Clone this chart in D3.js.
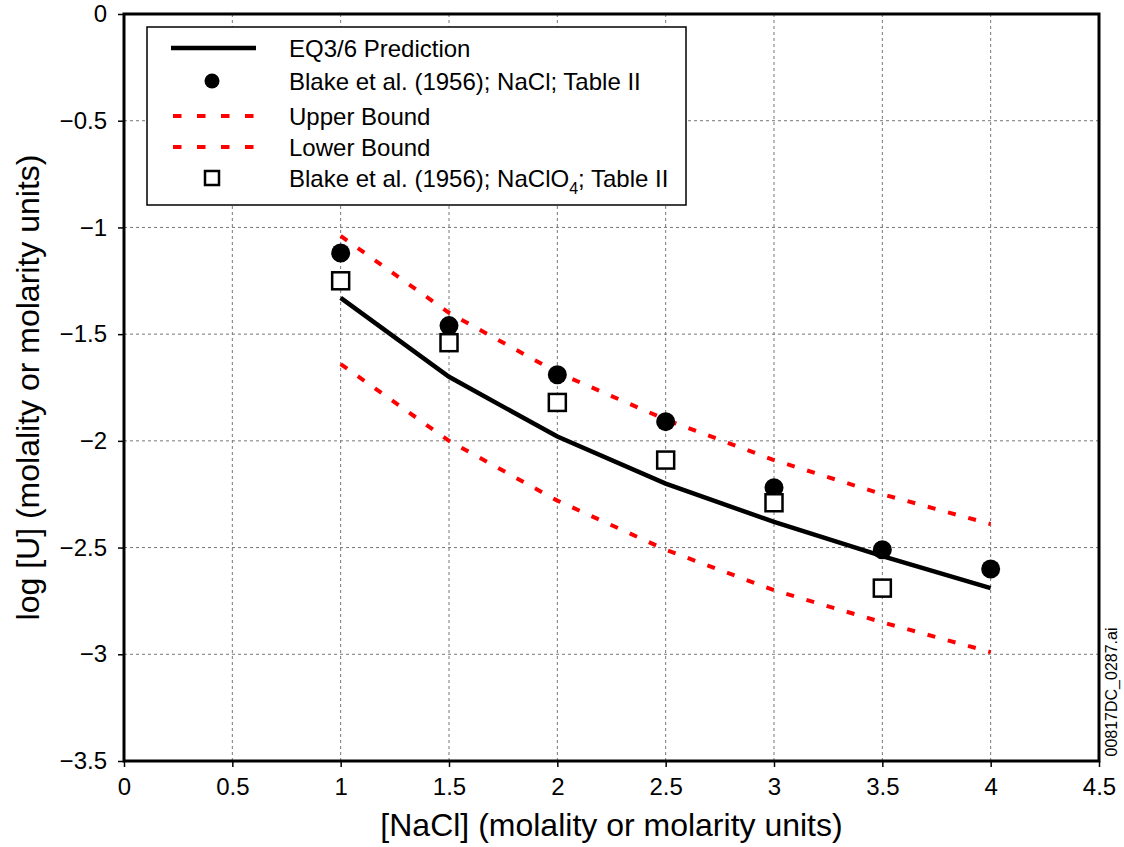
<!DOCTYPE html>
<html>
<head>
<meta charset="utf-8">
<script src="https://cdnjs.cloudflare.com/ajax/libs/d3/7.8.5/d3.min.js"></script>
<style>
  html, body { margin: 0; padding: 0; background: #fff; }
  svg { display: block; font-family: "Liberation Sans", Arial, sans-serif; }
</style>
</head>
<body>
<svg id="chart" width="1124" height="847"></svg>
<script>
// values
var conc = [1, 1.5, 2, 2.5, 3, 3.5, 4];
var eq36 = [-1.33, -1.70, -1.98, -2.20, -2.38, -2.54, -2.69];
var upperBound = [-1.04, -1.40, -1.68, -1.90, -2.09, -2.25, -2.39];
var lowerBound = [-1.64, -2.00, -2.28, -2.51, -2.70, -2.85, -2.99];
var naclX = [1, 1.5, 2, 2.5, 3, 3.5, 4];
var naclY = [-1.12, -1.46, -1.69, -1.91, -2.22, -2.51, -2.60];
var clo4X = [1, 1.5, 2, 2.5, 3, 3.5];
var clo4Y = [-1.25, -1.54, -1.82, -2.09, -2.29, -2.69];
var xTicks = [0, 0.5, 1, 1.5, 2, 2.5, 3, 3.5, 4, 4.5];
var yTicks = [0, -0.5, -1, -1.5, -2, -2.5, -3, -3.5];

var svg = d3.select('#chart'),
    pLeft = 124, pRight = 1099, pTop = 14, pBottom = 761;

var x = d3.scaleLinear().domain([0, 4.5]).range([pLeft, pRight]);
var y = d3.scaleLinear().domain([-3.5, 0]).range([pBottom, pTop]);
var fmt = d3.format('~g');

// grid
var grid = svg.append('g')
    .attr('stroke', '#777')
    .attr('stroke-width', 1)
    .attr('stroke-dasharray', '3,3');
grid.selectAll('line.gx')
    .data(xTicks.slice(1, -1)).enter().append('line')
      .attr('x1', function(d) { return x(d); })
      .attr('x2', function(d) { return x(d); })
      .attr('y1', pTop).attr('y2', pBottom);
grid.selectAll('line.gy')
    .data(yTicks.slice(1, -1)).enter().append('line')
      .attr('y1', function(d) { return y(d); })
      .attr('y2', function(d) { return y(d); })
      .attr('x1', pLeft).attr('x2', pRight);

// axes
var xAxis = svg.append('g')
    .attr('transform', 'translate(0,' + pBottom + ')')
    .call(d3.axisBottom(x).tickValues(xTicks).tickFormat(fmt).tickSize(6).tickPadding(11));
var yAxis = svg.append('g')
    .attr('transform', 'translate(' + pLeft + ',0)')
    .call(d3.axisLeft(y).tickValues(yTicks).tickFormat(fmt).tickSize(6).tickPadding(11));
[xAxis, yAxis].forEach(function(a) {
  a.select('.domain').remove();
  a.selectAll('line').attr('stroke', '#000').attr('stroke-width', 1.5);
  a.selectAll('text')
    .attr('fill', '#000')
    .attr('font-size', 24)
    .attr('font-family', '"Liberation Sans", Arial, sans-serif');
});

// lines
var line = d3.line()
    .x(function(d) { return x(d[0]); })
    .y(function(d) { return y(d[1]); });

function pairs(xs, ys) { return xs.map(function(v, i) { return [v, ys[i]]; }); }

svg.append('path')
    .datum(pairs(conc, upperBound))
    .attr('d', line)
    .attr('fill', 'none')
    .attr('stroke', '#ff0000')
    .attr('stroke-width', 4)
    .attr('stroke-dasharray', '8,13');
svg.append('path')
    .datum(pairs(conc, lowerBound))
    .attr('d', line)
    .attr('fill', 'none')
    .attr('stroke', '#ff0000')
    .attr('stroke-width', 4)
    .attr('stroke-dasharray', '8,13');
svg.append('path')
    .datum(pairs(conc, eq36))
    .attr('d', line)
    .attr('fill', 'none')
    .attr('stroke', '#000')
    .attr('stroke-width', 4.5);

// markers
svg.append('g').selectAll('circle')
    .data(pairs(naclX, naclY)).enter().append('circle')
      .attr('cx', function(d) { return x(d[0]); })
      .attr('cy', function(d) { return y(d[1]); })
      .attr('r', 9.5)
      .attr('fill', '#000');
svg.append('g').selectAll('rect')
    .data(pairs(clo4X, clo4Y)).enter().append('rect')
      .attr('x', function(d) { return x(d[0]) - 8.5; })
      .attr('y', function(d) { return y(d[1]) - 8.5; })
      .attr('width', 17).attr('height', 17)
      .attr('fill', '#fff')
      .attr('stroke', '#000')
      .attr('stroke-width', 2.5);

// frame
svg.append('rect')
    .attr('x', pLeft).attr('y', pTop)
    .attr('width', pRight - pLeft).attr('height', pBottom - pTop)
    .attr('fill', 'none')
    .attr('stroke', '#000')
    .attr('stroke-width', 3);

// legend
var lg = svg.append('g');
lg.append('rect')
    .attr('x', 147).attr('y', 27)
    .attr('width', 539).attr('height', 178)
    .attr('fill', '#fff')
    .attr('stroke', '#000')
    .attr('stroke-width', 1.5);

var rows = [48, 81, 116, 147, 178];
var sx = 212, tx = 289;
lg.append('line')
    .attr('x1', 171).attr('x2', 256).attr('y1', rows[0]).attr('y2', rows[0])
    .attr('stroke', '#000').attr('stroke-width', 4.5);
lg.append('circle')
    .attr('cx', sx).attr('cy', rows[1]).attr('r', 7.5).attr('fill', '#000');
[rows[2], rows[3]].forEach(function(ry) {
  lg.append('line')
      .attr('x1', 173).attr('x2', 256).attr('y1', ry).attr('y2', ry)
      .attr('stroke', '#ff0000').attr('stroke-width', 4)
      .attr('stroke-dasharray', '8.5,15.5');
});
lg.append('rect')
    .attr('x', sx - 7).attr('y', rows[4] - 7)
    .attr('width', 14).attr('height', 14)
    .attr('fill', '#fff').attr('stroke', '#000').attr('stroke-width', 2.5);

var labels = ['EQ3/6 Prediction', 'Blake et al. (1956); NaCl; Table II', 'Upper Bound', 'Lower Bound'];
labels.forEach(function(t, i) {
  lg.append('text')
      .attr('x', tx).attr('y', rows[i]).attr('dy', '0.36em')
      .attr('font-size', 24)
      .text(t);
});
var last = lg.append('text')
    .attr('x', tx).attr('y', rows[4]).attr('dy', '0.36em')
    .attr('font-size', 24);
last.append('tspan').text('Blake et al. (1956); NaClO');
last.append('tspan').attr('font-size', 16).attr('dy', 7).text('4');
last.append('tspan').attr('dy', -7).text('; Table II');

// axis titles
svg.append('text')
    .attr('x', (pLeft + pRight) / 2).attr('y', 836)
    .attr('text-anchor', 'middle')
    .attr('font-size', 32)
    .text('[NaCl] (molality or molarity units)');
svg.append('text')
    .attr('transform', 'translate(39,' + ((pTop + pBottom) / 2) + ') rotate(-90)')
    .attr('text-anchor', 'middle')
    .attr('font-size', 32)
    .text('log [U] (molality or molarity units)');

// file tag
svg.append('text')
    .attr('transform', 'translate(1117,692) rotate(-90)')
    .attr('text-anchor', 'middle')
    .attr('font-size', 16)
    .text('00817DC_0287.ai');
</script>
</body>
</html>
